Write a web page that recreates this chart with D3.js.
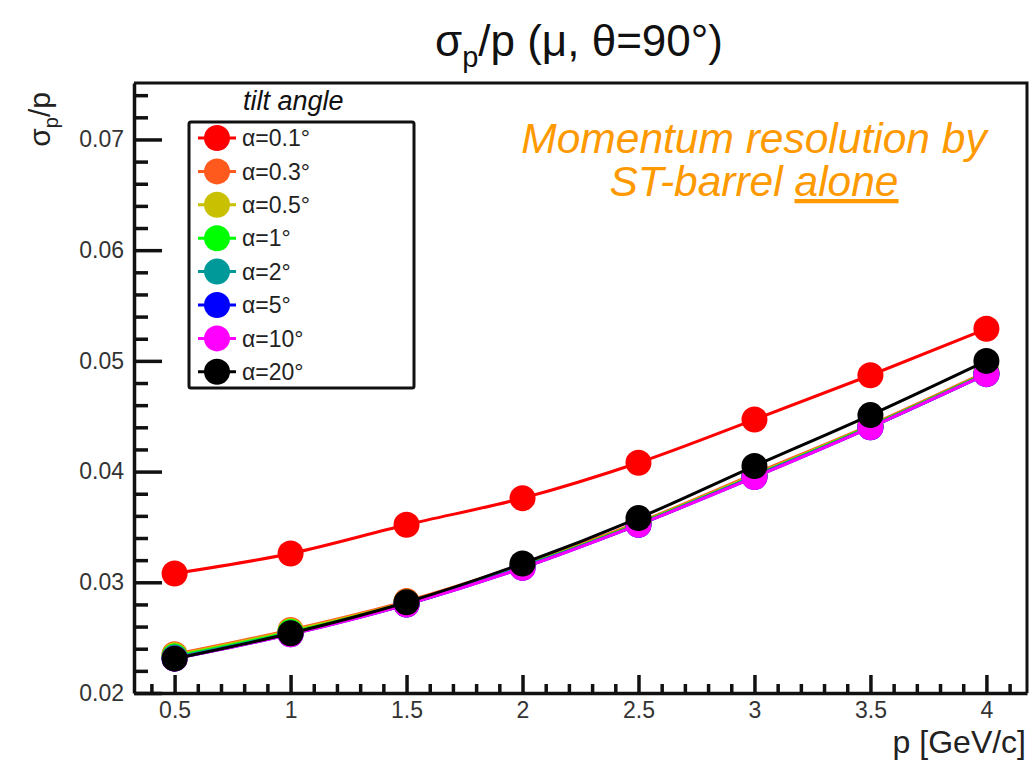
<!DOCTYPE html>
<html>
<head>
<meta charset="utf-8">
<script src="https://cdn.jsdelivr.net/npm/d3@7"></script>
<style>
body { margin: 0; background: #fff; }
text { font-family: "Liberation Sans", Arial, Helvetica, sans-serif; }
</style>
</head>
<body>
<div id="chart"></div>
<script>
// DATA
const momentum = [0.5, 1, 1.5, 2, 2.5, 3, 3.5, 4];
const tiltLabels = ["α=0.1°", "α=0.3°", "α=0.5°", "α=1°", "α=2°", "α=5°", "α=10°", "α=20°"];
const tiltColors = ["#ff0000", "#ff5a1e", "#c8c000", "#00ff00", "#009999", "#0000ff", "#ff00ff", "#000000"];
const res01 = [0.0308, 0.0326, 0.0352, 0.0376, 0.0408, 0.0447, 0.0487, 0.0529];
const res03 = [0.0235, 0.0257, 0.0283, 0.0316, 0.0354, 0.0398, 0.0442, 0.0490];
const res05 = [0.0234, 0.0256, 0.0282, 0.0315, 0.0353, 0.0397, 0.0441, 0.0489];
const res1  = [0.0233, 0.0255, 0.0281, 0.0314, 0.0353, 0.0396, 0.0441, 0.0489];
const res2  = [0.0232, 0.0254, 0.0280, 0.0314, 0.0352, 0.0396, 0.0440, 0.0488];
const res5  = [0.0231, 0.0253, 0.0280, 0.0313, 0.0352, 0.0395, 0.0440, 0.0488];
const res10 = [0.0231, 0.0253, 0.0280, 0.0313, 0.0352, 0.0395, 0.0440, 0.0488];
const res20 = [0.0231, 0.0254, 0.0282, 0.0317, 0.0358, 0.0405, 0.0451, 0.0500];
const xTicks = [0.5, 1, 1.5, 2, 2.5, 3, 3.5, 4];
const yTicks = [0.02, 0.03, 0.04, 0.05, 0.06, 0.07];

const allSeries = [res01, res03, res05, res1, res2, res5, res10, res20];

// CONSTANTS
const width = 1031;
const height = 763;
const frame = { left: 134, right: 1027, top: 83, bottom: 693 };
const radius = 13;
const axisWidth = 3.5;

// SVG
const svg = d3.select("#chart")
    .append("svg")
    .attr("width", width)
    .attr("height", height);

// SCALES
const xScale = d3.scaleLinear()
    .domain([0.325, 4.175])
    .range([frame.left, frame.right]);

const yScale = d3.scaleLinear()
    .domain([0.02, 0.0751])
    .range([frame.bottom, frame.top]);

// FRAME (top + right edges)
svg.append("path")
    .attr("d", `M${frame.left},${frame.top}H${frame.right}V${frame.bottom}`)
    .attr("fill", "none")
    .attr("stroke", "#111")
    .attr("stroke-width", 3);

// AXES
const xMinor = d3.range(0.4, 4.15, 0.1).filter(v => Math.abs(v * 2 - Math.round(v * 2)) > 0.01);
const yMinor = d3.range(0.022, 0.075, 0.002).filter(v => Math.abs(v * 100 - Math.round(v * 100)) > 0.01);

svg.append("g")
    .attr("transform", `translate(0,${frame.bottom})`)
    .call(d3.axisBottom(xScale).tickValues(xMinor).tickSize(-9).tickSizeOuter(0).tickFormat(""))
    .call(g => g.select(".domain").remove())
    .selectAll("line").attr("stroke-width", axisWidth).attr("stroke", "#111");

const xAxisGroup = svg.append("g")
    .attr("transform", `translate(0,${frame.bottom})`)
    .call(d3.axisBottom(xScale).tickValues(xTicks).tickSize(-18).tickSizeOuter(0).tickPadding(9).tickFormat(d3.format("")));

svg.append("g")
    .attr("transform", `translate(${frame.left},0)`)
    .call(d3.axisLeft(yScale).tickValues(yMinor).tickSize(-14).tickSizeOuter(0).tickFormat(""))
    .call(g => g.select(".domain").remove())
    .selectAll("line").attr("stroke-width", axisWidth).attr("stroke", "#111");

const yAxisGroup = svg.append("g")
    .attr("transform", `translate(${frame.left},0)`)
    .call(d3.axisLeft(yScale).tickValues(yTicks).tickSize(-28).tickSizeOuter(0).tickPadding(10).tickFormat(d3.format(".2f")));

[xAxisGroup, yAxisGroup].forEach(g => {
    g.select(".domain").attr("stroke-width", axisWidth).attr("stroke", "#111");
    g.selectAll("line").attr("stroke-width", axisWidth).attr("stroke", "#111");
    g.selectAll("text").attr("font-size", 23).attr("fill", "#333")
        .attr("font-family", "'Liberation Sans', Arial, sans-serif");
});

// AXIS TITLES
svg.append("text")
    .attr("x", frame.right - 1)
    .attr("y", 753)
    .attr("text-anchor", "end")
    .attr("font-size", 32)
    .attr("fill", "#222")
    .text("p [GeV/c]");

const yTitle = svg.append("text")
    .attr("transform", "translate(50,92) rotate(-90)")
    .attr("text-anchor", "end")
    .attr("font-size", 30)
    .attr("fill", "#222");
yTitle.append("tspan").text("σ");
yTitle.append("tspan").attr("font-size", 20).attr("dy", 8).text("p");
yTitle.append("tspan").attr("dy", -8).text("/p");

// TITLE
const title = svg.append("text")
    .attr("x", 579)
    .attr("y", 56)
    .attr("text-anchor", "middle")
    .attr("font-size", 44)
    .attr("fill", "#111");
title.append("tspan").text("σ");
title.append("tspan").attr("font-size", 29).attr("dy", 11).text("p");
title.append("tspan").attr("dy", -11).text("/p (μ, θ=90°)");

// LINES + MARKERS
const line = d3.line()
    .x((d, i) => xScale(momentum[i]))
    .y(d => yScale(d))
    .curve(d3.curveMonotoneX);

allSeries.forEach((series, k) => {
    svg.append("path")
        .datum(series)
        .attr("d", line)
        .attr("fill", "none")
        .attr("stroke", tiltColors[k])
        .attr("stroke-width", 3);

    svg.selectAll(".dot" + k)
        .data(series)
        .join("circle")
        .attr("class", "dot" + k)
        .attr("cx", (d, i) => xScale(momentum[i]))
        .attr("cy", d => yScale(d))
        .attr("r", radius)
        .attr("fill", tiltColors[k]);
});

// LEGEND
svg.append("text")
    .attr("x", 243)
    .attr("y", 110)
    .attr("font-size", 27)
    .attr("font-style", "italic")
    .attr("fill", "#111")
    .text("tilt angle");

svg.append("rect")
    .attr("x", 189)
    .attr("y", 122)
    .attr("width", 225)
    .attr("height", 266)
    .attr("rx", 2)
    .attr("fill", "#fff")
    .attr("stroke", "#111")
    .attr("stroke-width", 3);

const legendRows = svg.selectAll(".legend-row")
    .data(tiltLabels)
    .join("g")
    .attr("class", "legend-row")
    .attr("transform", (d, i) => `translate(0,${138 + i * 33.4})`);

legendRows.append("line")
    .attr("x1", 198).attr("x2", 236)
    .attr("stroke", (d, i) => tiltColors[i])
    .attr("stroke-width", 3);

legendRows.append("circle")
    .attr("cx", 217)
    .attr("r", 13)
    .attr("fill", (d, i) => tiltColors[i]);

legendRows.append("text")
    .attr("x", 242)
    .attr("dy", "0.36em")
    .attr("font-size", 23)
    .attr("fill", "#222")
    .text(d => d);

// ANNOTATION
const note = svg.append("text")
    .attr("x", 754)
    .attr("y", 153)
    .attr("text-anchor", "middle")
    .attr("font-size", 42.5)
    .attr("font-style", "italic")
    .attr("fill", "#ff9900")
    .text("Momentum resolution by");

const note2 = svg.append("text")
    .attr("x", 754)
    .attr("y", 196)
    .attr("text-anchor", "middle")
    .attr("font-size", 42.5)
    .attr("font-style", "italic")
    .attr("fill", "#ff9900");
note2.append("tspan").text("ST-barrel ");
note2.append("tspan").attr("text-decoration", "underline").text("alone");
</script>
</body>
</html>
